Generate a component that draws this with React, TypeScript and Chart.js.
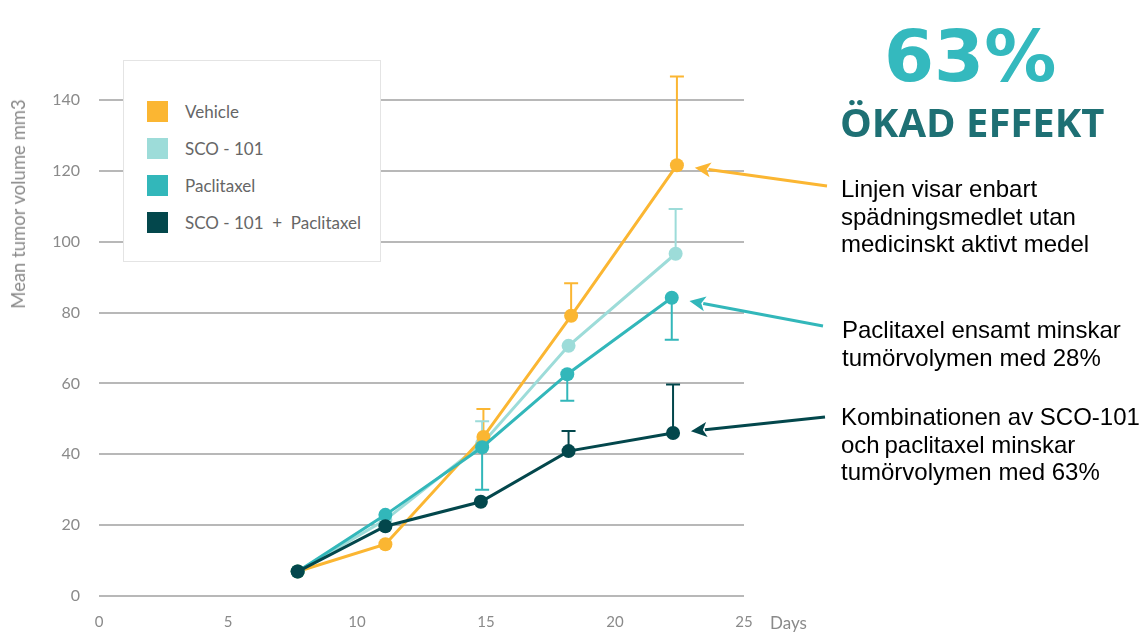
import React, { useEffect, useRef } from 'react';
import { Chart, registerables } from 'chart.js';

Chart.register(...registerables);

// ---------------- data ----------------
const SERIES_LABELS = ['Vehicle', 'SCO - 101', 'Paclitaxel', 'SCO - 101  +  Paclitaxel'];
const SERIES_COLORS = ['#FBB632', '#9DDCD9', '#32B7BA', '#03474C'];
// drawing order (lower = drawn on top)
const SERIES_ORDER = [2, 3, 1, 0];

const VEHICLE_DAYS = [7.7, 11.1, 14.9, 18.3, 22.4];
const VEHICLE_VOLUME = [6.9, 14.6, 44.9, 79.1, 121.6];
const VEHICLE_ERROR_TOP = [null, null, 52.8, 88.3, 146.6];

const SCO101_DAYS = [7.7, 11.1, 14.85, 18.2, 22.35];
const SCO101_VOLUME = [6.9, 21.5, 43.0, 70.6, 96.6];
const SCO101_ERROR_TOP = [null, null, 49.3, null, 109.2];

const PACLITAXEL_DAYS = [7.7, 11.1, 14.85, 18.15, 22.2];
const PACLITAXEL_VOLUME = [6.9, 22.9, 42.0, 62.6, 84.2];
const PACLITAXEL_ERROR_BOTTOM = [null, null, 30.0, 55.1, 72.3];

const COMBO_DAYS = [7.7, 11.1, 14.8, 18.2, 22.25];
const COMBO_VOLUME = [6.9, 19.7, 26.6, 40.9, 46.0];
const COMBO_ERROR_TOP = [null, null, null, 46.6, 59.7];

const X_TICKS = [0, 5, 10, 15, 20, 25];
const Y_TICKS = [0, 20, 40, 60, 80, 100, 120, 140];

const Y_TITLE = 'Mean tumor volume mm3';
const X_TITLE = 'Days';
const BIG_NUMBER = '63%';
const BIG_CAPTION = 'ÖKAD EFFEKT';
const NOTE_VEHICLE = ['Linjen visar enbart', 'spädningsmedlet utan', 'medicinskt aktivt medel'];
const NOTE_PACLITAXEL = ['Paclitaxel ensamt minskar', 'tumörvolymen med 28%'];
const NOTE_COMBO = ['Kombinationen av SCO-101', 'och\u2009paclitaxel minskar', 'tumörvolymen med 63%'];

const SERIES_DAYS = [VEHICLE_DAYS, SCO101_DAYS, PACLITAXEL_DAYS, COMBO_DAYS];
const SERIES_VOLUME = [VEHICLE_VOLUME, SCO101_VOLUME, PACLITAXEL_VOLUME, COMBO_VOLUME];
const SERIES_ERRORS = [VEHICLE_ERROR_TOP, SCO101_ERROR_TOP, PACLITAXEL_ERROR_BOTTOM, COMBO_ERROR_TOP];

// arrows: dataset index -> tail position (near the note text)
const ARROWS = [
  { dataset: 0, tail: [827, 186] },
  { dataset: 2, tail: [823, 326] },
  { dataset: 3, tail: [825, 417] },
];

const errorBarPlugin = {
  id: 'errorBars',
  beforeDatasetsDraw(chart: any) {
    const ctx = chart.ctx;
    const xs = chart.scales.x;
    const ys = chart.scales.y;
    SERIES_ERRORS.forEach((errs, i) => {
      const color = SERIES_COLORS[i];
      errs.forEach((e, j) => {
        if (e === null || e === undefined) return;
        const x = xs.getPixelForValue(SERIES_DAYS[i][j]);
        const y0 = ys.getPixelForValue(SERIES_VOLUME[i][j]);
        const y1 = ys.getPixelForValue(e);
        ctx.save();
        ctx.strokeStyle = color;
        ctx.lineWidth = 2;
        ctx.beginPath();
        ctx.moveTo(x, y0);
        ctx.lineTo(x, y1);
        ctx.moveTo(x - 7, y1);
        ctx.lineTo(x + 7, y1);
        ctx.stroke();
        ctx.restore();
      });
    });
  },
};

const arrowPlugin = {
  id: 'arrows',
  afterDraw(chart: any) {
    const ctx = chart.ctx;
    ARROWS.forEach((a) => {
      const meta = chart.getDatasetMeta(a.dataset);
      const pt = meta.data[meta.data.length - 1];
      const color = SERIES_COLORS[a.dataset];
      const dx = a.tail[0] - pt.x;
      const dy = a.tail[1] - pt.y;
      const len = Math.hypot(dx, dy);
      const ux = dx / len;
      const uy = dy / len;
      const tipX = pt.x + ux * 18;
      const tipY = pt.y + uy * 18;
      const headLen = 16;
      const headHalf = 7.5;
      const baseX = tipX + ux * headLen;
      const baseY = tipY + uy * headLen;
      ctx.save();
      ctx.strokeStyle = color;
      ctx.fillStyle = color;
      ctx.lineWidth = 3;
      ctx.beginPath();
      ctx.moveTo(a.tail[0], a.tail[1]);
      ctx.lineTo(baseX - ux * 2, baseY - uy * 2);
      ctx.stroke();
      ctx.beginPath();
      ctx.moveTo(tipX, tipY);
      ctx.lineTo(baseX - uy * headHalf, baseY + ux * headHalf);
      ctx.lineTo(baseX - ux * 4, baseY - uy * 4);
      ctx.lineTo(baseX + uy * headHalf, baseY - ux * headHalf);
      ctx.closePath();
      ctx.fill();
      ctx.restore();
    });
  },
};

const LEGEND_ROW_TOPS = [37, 74, 111, 148];

export default function App() {
  const canvasRef = useRef<HTMLCanvasElement | null>(null);

  useEffect(() => {
    document.body.style.margin = '0';
    const canvas = canvasRef.current;
    if (!canvas) return;
    const datasets = SERIES_LABELS.map((label, i) => ({
      label,
      data: SERIES_DAYS[i].map((d, j) => ({ x: d, y: SERIES_VOLUME[i][j] })),
      borderColor: SERIES_COLORS[i],
      backgroundColor: SERIES_COLORS[i],
      pointBackgroundColor: SERIES_COLORS[i],
      pointBorderWidth: 0,
      pointRadius: 7,
      borderWidth: 3,
      tension: 0,
      order: SERIES_ORDER[i],
      clip: false as any,
    }));
    const chart = new Chart(canvas, {
      type: 'line',
      data: { datasets },
      plugins: [errorBarPlugin, arrowPlugin],
      options: {
        animation: false,
        responsive: false,
        maintainAspectRatio: false,
        layout: { padding: { left: 0, right: 400, top: 100, bottom: 0 } },
        plugins: {
          legend: { display: false },
          tooltip: { enabled: false },
          title: { display: false },
        },
        scales: {
          x: {
            type: 'linear',
            min: 0,
            max: 25,
            afterBuildTicks: (s: any) => {
              s.ticks = X_TICKS.map((v) => ({ value: v }));
            },
            afterFit: (s: any) => {
              s.height = 38;
            },
            grid: { display: false, drawTicks: false },
            border: { display: false },
            ticks: {
              padding: 17,
              color: '#8A8A8A',
              font: { family: 'Lato', size: 15 },
              maxRotation: 0,
              autoSkip: false,
            },
          },
          y: {
            type: 'linear',
            min: 0,
            max: 140,
            afterBuildTicks: (s: any) => {
              s.ticks = Y_TICKS.map((v) => ({ value: v }));
            },
            afterFit: (s: any) => {
              s.width = 99;
            },
            grid: { color: '#B8B8B8', lineWidth: 2, drawTicks: false },
            border: { display: false },
            ticks: {
              padding: 19,
              color: '#8A8A8A',
              font: { family: 'Lato', size: 16 },
            },
          },
        },
      },
    });
    return () => chart.destroy();
  }, []);

  const noteStyle: React.CSSProperties = {
    position: 'absolute',
    fontFamily: '"Liberation Sans", Arial, sans-serif',
    fontSize: 24,
    lineHeight: '27.5px',
    color: '#000',
    whiteSpace: 'nowrap',
  };

  return (
    <div style={{ position: 'relative', width: 1144, height: 634, overflow: 'hidden', background: '#fff' }}>
      <canvas ref={canvasRef} width={1144} height={634} style={{ position: 'absolute', left: 0, top: 0, width: 1144, height: 634 }} />

      {/* y axis title */}
      <div
        style={{
          position: 'absolute',
          left: 18,
          top: 204,
          transform: 'translate(-50%, -50%) rotate(-90deg)',
          fontFamily: 'Lato, sans-serif',
          fontSize: 18.5,
          color: '#8A8A8A',
          whiteSpace: 'nowrap',
        }}
      >
        {Y_TITLE}
      </div>

      {/* x axis title */}
      <div
        style={{
          position: 'absolute',
          left: 770,
          top: 613,
          fontFamily: 'Lato, sans-serif',
          fontSize: 17,
          lineHeight: '20px',
          color: '#8A8A8A',
        }}
      >
        {X_TITLE}
      </div>

      {/* legend */}
      <div
        style={{
          position: 'absolute',
          left: 123,
          top: 60,
          width: 256,
          height: 200,
          border: '1px solid #E4E4E4',
          background: '#fff',
        }}
      >
        {SERIES_LABELS.map((label, i) => (
          <div key={label} style={{ position: 'absolute', left: 23, top: LEGEND_ROW_TOPS[i], height: 26, display: 'flex', alignItems: 'center' }}>
            <div style={{ width: 21, height: 21, background: SERIES_COLORS[i] }} />
            <div
              style={{
                marginLeft: 17,
                fontFamily: 'Lato, sans-serif',
                fontSize: 17,
                color: '#666666',
                whiteSpace: 'pre',
              }}
            >
              {label}
            </div>
          </div>
        ))}
      </div>

      {/* big headline */}
      <div
        style={{
          position: 'absolute',
          left: 884,
          top: 20,
          fontFamily: '"DejaVu Sans", sans-serif',
          fontWeight: 700,
          fontSize: 72,
          lineHeight: '72px',
          color: '#34B9BE',
          whiteSpace: 'nowrap',
        }}
      >
        {BIG_NUMBER}
      </div>
      <div
        style={{
          position: 'absolute',
          left: 840,
          top: 102,
          fontFamily: '"Open Sans", sans-serif',
          fontWeight: 700,
          fontSize: 40,
          lineHeight: '40px',
          color: '#1E7074',
          whiteSpace: 'nowrap',
        }}
      >
        {BIG_CAPTION}
      </div>

      {/* notes */}
      <div style={{ ...noteStyle, left: 841, top: 175 }}>
        {NOTE_VEHICLE.map((l) => (
          <div key={l}>{l}</div>
        ))}
      </div>
      <div style={{ ...noteStyle, left: 842, top: 316 }}>
        {NOTE_PACLITAXEL.map((l) => (
          <div key={l}>{l}</div>
        ))}
      </div>
      <div style={{ ...noteStyle, left: 841, top: 403 }}>
        {NOTE_COMBO.map((l) => (
          <div key={l}>{l}</div>
        ))}
      </div>
    </div>
  );
}
